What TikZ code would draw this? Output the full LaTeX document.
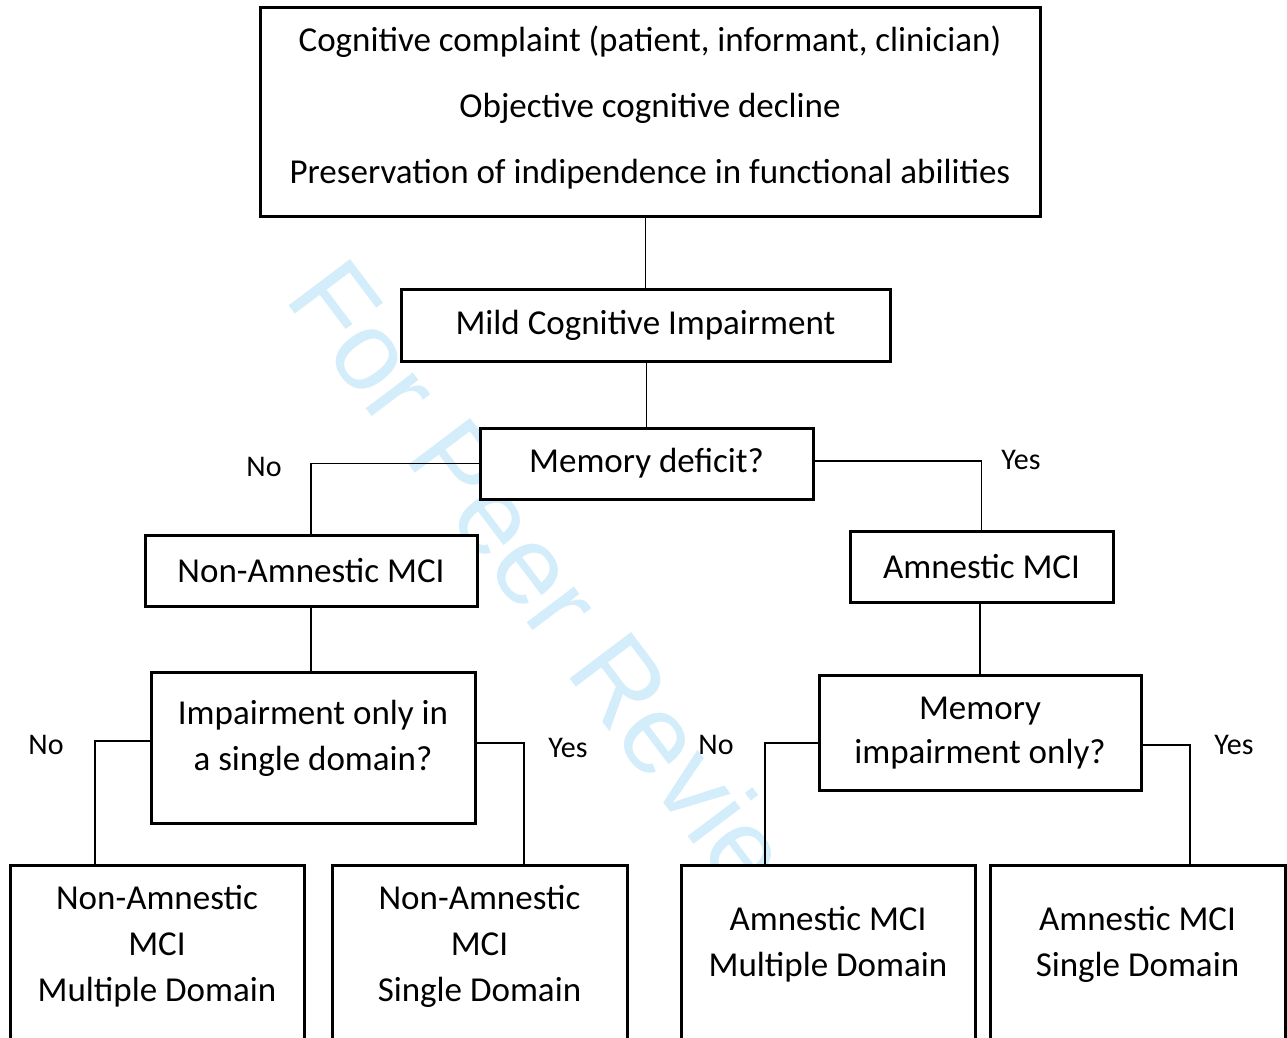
\documentclass[tikz,border=0pt]{standalone}
\usepackage{fontspec}
\setmainfont{Carlito}
\newfontfamily\wmfont{Liberation Sans}
\usetikzlibrary{positioning}
\definecolor{wmblue}{RGB}{212,237,250}

\begin{document}
\begin{tikzpicture}[x=0.5pt,y=-0.5pt,
		box/.style={draw,line width=1.5pt,fill=white,inner sep=0pt,align=center,font=\fontsize{17.5}{22.5}\selectfont},
		boxtext/.style={align=center,inner sep=0pt,font=\fontsize{17.5}{23}\selectfont},
		link/.style={line width=0.75pt},
		answer/.style={font=\fontsize{15}{18}\selectfont}]
		\useasboundingbox (0,0) rectangle (1287,1038);
		\clip (0,0) rectangle (1287,1038);
		% watermark
		\node[wmblue,font=\wmfont\fontsize{56}{60}\selectfont,anchor=base west,rotate=-53,inner sep=0pt] (wm) at (283,298) {For Peer Review};
		% boxes
		\node[box,minimum width=390pt,minimum height=104.5pt] (crit) at (650,112.5) {};
		\node[boxtext,font=\fontsize{17.5}{33}\selectfont] (crittxt) at (650,108) {Cognitive complaint (patient, informant, clinician)\\Objective cognitive decline\\Preservation of indipendence in functional abilities};
		\node[box,minimum width=244.5pt,minimum height=35.5pt] (mci) at (645.5,325.5) {Mild Cognitive Impairment};
		\node[box,minimum width=166.5pt,minimum height=35.5pt] (memdef) at (646.5,463.5) {Memory deficit?};
		\node[box,minimum width=166pt,minimum height=35.5pt] (nonam) at (311,570.5) {Non-Amnestic MCI};
		\node[box,minimum width=131.5pt,minimum height=35.5pt] (amn) at (981.5,566.5) {Amnestic MCI};
		\node[box,minimum width=162pt,minimum height=75.5pt] (single) at (313,747.5) {};
		\node[boxtext] (singletxt) at (313,738) {Impairment only in\\a single domain?};
		\node[box,minimum width=161pt,minimum height=57.5pt] (memonly) at (980,732.5) {};
		\node[boxtext,font=\fontsize{17.5}{22}\selectfont] (memonlytxt) at (980,733) {Memory\\impairment only?};
		% leaves
		\node[box,minimum width=147pt,minimum height=92.5pt] (namulti) at (157,957.5) {};
		\node[boxtext] (namultitxt) at (157,946) {Non-Amnestic\\MCI\\Multiple Domain};
		\node[box,minimum width=147.5pt,minimum height=92.5pt] (nasingle) at (479.5,957.5) {};
		\node[boxtext] (nasingletxt) at (479.5,946) {Non-Amnestic\\MCI\\Single Domain};
		\node[box,minimum width=147pt,minimum height=92.5pt] (amulti) at (828,957.5) {};
		\node[boxtext] (amultitxt) at (828,944) {Amnestic MCI\\Multiple Domain};
		\node[box,minimum width=147.5pt,minimum height=92.5pt] (asingle) at (1137.5,957.5) {};
		\node[boxtext] (asingletxt) at (1137.5,944) {Amnestic MCI\\Single Domain};
		% connectors
		\draw[link] (mci.north) -- (mci.north |- crit.south);
		\draw[link] (memdef.north) -- (memdef.north |- mci.south);
		\draw[link] (memdef.west) -| (nonam.north);
		\draw[link] ([yshift=1.25pt]memdef.east) -| (amn.north);
		\draw[link] (nonam.south) -- (nonam.south |- single.north);
		\draw[link] (memonly.north) -- (memonly.north |- amn.south);
		\draw[link] ([yshift=3.25pt]single.west) -| ([xshift=-31pt]namulti.north);
		\draw[link] ([yshift=2.25pt]single.east) -| ([xshift=22.25pt]nasingle.north);
		\draw[link] ([yshift=-5.25pt]memonly.west) -| ([xshift=-31.5pt]amulti.north);
		\draw[link] ([yshift=-6.25pt]memonly.east) -| ([xshift=26.25pt]asingle.north);
		% answers
		\node[answer] (no1) at (264,467) {No};
		\node[answer] (yes1) at (1021,460) {Yes};
		\node[answer] (no2) at (46,745) {No};
		\node[answer] (yes2) at (568,748) {Yes};
		\node[answer] (no3) at (716,745) {No};
		\node[answer] (yes3) at (1234,745) {Yes};
	\end{tikzpicture}
\end{document}
